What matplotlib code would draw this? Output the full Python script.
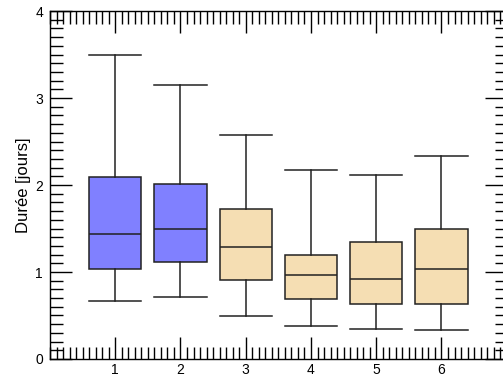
import matplotlib
matplotlib.use('Agg')
import matplotlib.pyplot as plt
from matplotlib.ticker import MultipleLocator

plt.rcParams['font.family'] = ['Liberation Sans', 'DejaVu Sans']

positions = [1, 2, 3, 4, 5, 6]
tick_labels = ['1', '2', '3', '4', '5', '6']
whislo = [0.67, 0.71, 0.49, 0.38, 0.34, 0.33]
q1 = [1.03, 1.12, 0.91, 0.69, 0.63, 0.63]
med = [1.44, 1.50, 1.29, 0.96, 0.92, 1.04]
q3 = [2.09, 2.01, 1.73, 1.20, 1.34, 1.50]
whishi = [3.49, 3.15, 2.58, 2.17, 2.11, 2.33]
colors = ['#8080ff', '#8080ff', '#f5deb3', '#f5deb3', '#f5deb3', '#f5deb3']

stats = []
for i in range(len(positions)):
    stats.append({'whislo': whislo[i], 'q1': q1[i], 'med': med[i],
                  'q3': q3[i], 'whishi': whishi[i], 'fliers': []})

fig = plt.figure(figsize=(5.03, 3.79), dpi=100)
ax = fig.add_axes([0.0994, 0.0528, 0.908, 0.918])

line = dict(color='#222222', linewidth=1.1)
bp = ax.bxp(stats, positions=positions, widths=0.8, patch_artist=True,
            showfliers=False, boxprops=line, whiskerprops=line,
            capprops=line, medianprops=line, capwidths=0.8)
for patch, c in zip(bp['boxes'], colors):
    patch.set_facecolor(c)

ax.set_xlim(0, 7)
ax.set_ylim(0, 4)
ax.set_xticks(positions)
ax.set_xticklabels(tick_labels)
ax.xaxis.set_minor_locator(MultipleLocator(0.1))
ax.yaxis.set_major_locator(MultipleLocator(1))
ax.yaxis.set_minor_locator(MultipleLocator(0.1))
ax.tick_params(which='both', direction='in', top=True, right=True, labelsize=10)
ax.tick_params(which='major', length=16, width=1)
ax.tick_params(which='minor', length=9, width=1)
ax.tick_params(axis='x', pad=3)
ax.tick_params(axis='y', pad=5)
for s in ax.spines.values():
    s.set_linewidth(1)
ax.set_ylabel('Durée [jours]', fontsize=12, labelpad=3)

plt.savefig('out.png', dpi=100)
